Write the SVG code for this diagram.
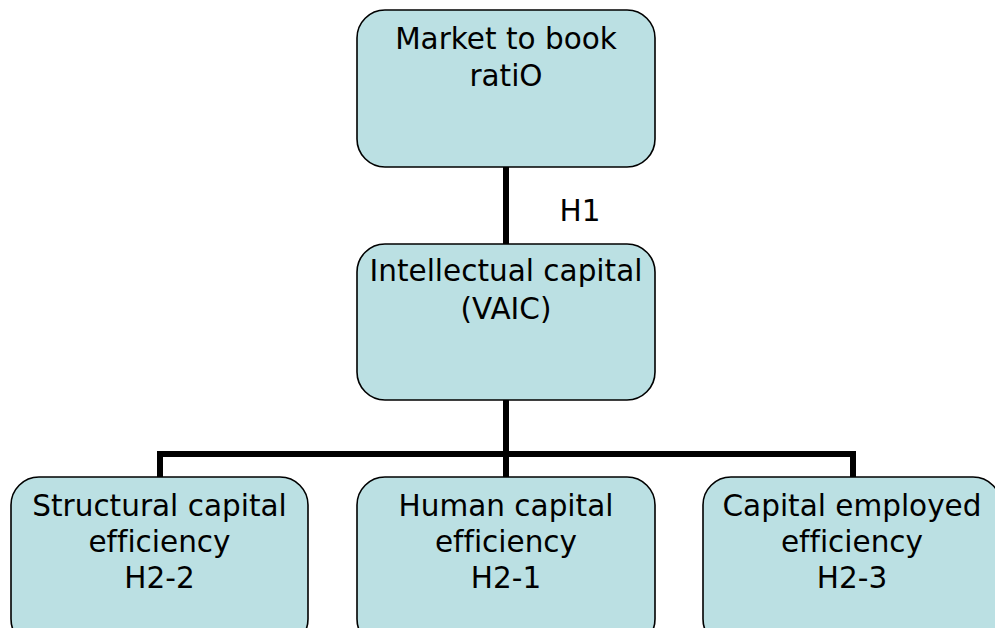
<svg xmlns="http://www.w3.org/2000/svg" width="995" height="628" viewBox="0 0 995 628">
<style>
.box{fill:#bbe0e3;stroke:#000;stroke-width:1.6}
.t{font-family:"DejaVu Sans",Verdana,sans-serif;font-size:29.5px;fill:#000;text-anchor:middle;font-variant-ligatures:none}
.c{stroke:#000;stroke-width:6;fill:none}
</style>
<rect width="995" height="628" fill="#fff"/>
<g id="connectors">
<line class="c" x1="506" y1="167" x2="506" y2="244"/>
<line class="c" x1="506" y1="400" x2="506" y2="477"/>
<polyline class="c" points="160,477 160,454 853,454 853,477"/>
</g>
<g id="market">
<rect class="box" x="357" y="10" width="298" height="157" rx="28"/>
<text class="t" x="506" y="49">Market to book</text>
<text class="t" x="506" y="86">ratiO</text>
</g>
<text id="h1" class="t" x="580" y="221">H1</text>
<g id="ic">
<rect class="box" x="357" y="244" width="298" height="156" rx="28"/>
<text class="t" x="506" y="281">Intellectual capital</text>
<text class="t" x="506" y="319">(VAIC)</text>
</g>
<g id="structural">
<rect class="box" x="11" y="477" width="297" height="170" rx="28"/>
<text class="t" x="159.5" y="516">Structural capital</text>
<text class="t" x="159.5" y="552">efficiency</text>
<text class="t" x="159.5" y="588">H2-2</text>
</g>
<g id="human">
<rect class="box" x="357" y="477" width="298" height="170" rx="28"/>
<text class="t" x="506" y="516">Human capital</text>
<text class="t" x="506" y="552">efficiency</text>
<text class="t" x="506" y="588">H2-1</text>
</g>
<g id="capital">
<rect class="box" x="703" y="477" width="298" height="170" rx="28"/>
<text class="t" x="852" y="516">Capital employed</text>
<text class="t" x="852" y="552">efficiency</text>
<text class="t" x="852" y="588">H2-3</text>
</g>
</svg>
